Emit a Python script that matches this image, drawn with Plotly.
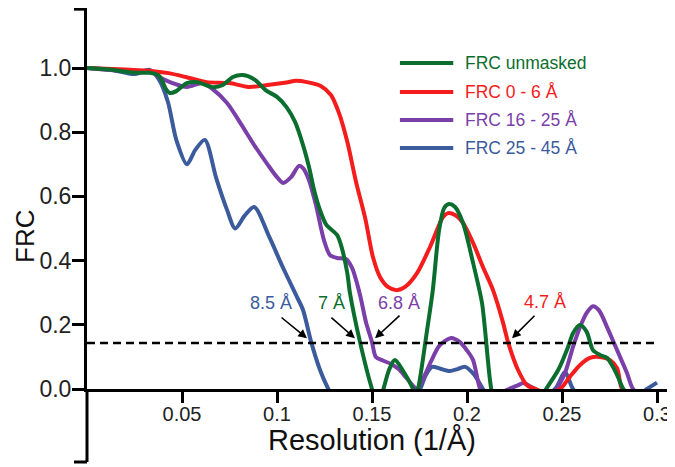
import plotly.graph_objects as go

# ---------------- data ----------------
x_unmasked = [0, 0.012, 0.025, 0.033, 0.038, 0.0415, 0.0437, 0.047, 0.0526, 0.058, 0.0663, 0.0715,
              0.0768, 0.0821, 0.0884, 0.094, 0.1, 0.105, 0.1095, 0.1137, 0.117, 0.1195, 0.1226, 0.126,
              0.1316, 0.134, 0.137, 0.1384, 0.1437, 0.150, 0.153, 0.156, 0.159, 0.162, 0.166, 0.1716,
              0.1728, 0.1742, 0.179, 0.182, 0.1853, 0.188, 0.1905, 0.1937, 0.1979, 0.2032, 0.2079,
              0.2095, 0.2126, 0.216, 0.23, 0.2416, 0.248, 0.2532, 0.2558, 0.2595, 0.263, 0.2663, 0.27,
              0.2737, 0.2768, 0.2795, 0.282, 0.29, 0.3]
frc_unmasked = [1.0, 0.995, 0.985, 0.985, 0.975, 0.935, 0.922, 0.928, 0.953, 0.956, 0.94, 0.947,
                0.972, 0.978, 0.963, 0.931, 0.91, 0.878, 0.832, 0.76, 0.688, 0.62, 0.558, 0.511,
                0.48, 0.442, 0.361, 0.299, 0.146, 0.0, -0.05, 0.0, 0.06, 0.09, 0.06, 0.0,
                -0.02, 0.0, 0.184, 0.308, 0.495, 0.564, 0.576, 0.567, 0.517, 0.393, 0.268,
                0.184, 0.006, -0.08, -0.1, 0.0, 0.059, 0.131, 0.174, 0.199, 0.178, 0.121, 0.106,
                0.097, 0.069, 0.037, 0.003, -0.05, -0.08]

x_0_6 = [0, 0.02, 0.035, 0.043, 0.052, 0.063, 0.075, 0.085, 0.095, 0.105, 0.11, 0.1158, 0.123,
         0.1284, 0.1326, 0.137, 0.1416, 0.1465, 0.1505, 0.1542, 0.1584, 0.163, 0.1674, 0.1737,
         0.1805, 0.1874, 0.19, 0.1937, 0.1979, 0.2032, 0.2084, 0.2137, 0.219, 0.2216, 0.2268,
         0.2316, 0.236, 0.242, 0.249, 0.254, 0.2595, 0.2647, 0.27, 0.2753, 0.279, 0.2816, 0.29, 0.3]
frc_0_6 = [1.0, 0.995, 0.99, 0.984, 0.972, 0.956, 0.953, 0.941, 0.947, 0.955, 0.96, 0.956, 0.944,
           0.916, 0.86, 0.77, 0.645, 0.53, 0.411, 0.349, 0.318, 0.308, 0.318, 0.361,
           0.442, 0.536, 0.548, 0.542, 0.517, 0.455, 0.38, 0.308, 0.206, 0.146, 0.06,
           0.012, 0.0, -0.01, 0.0, 0.037, 0.075, 0.097, 0.1, 0.09, 0.065, 0.0, -0.05, -0.08]

x_16_25 = [0, 0.02, 0.035, 0.038, 0.045, 0.0526, 0.061, 0.066, 0.0737, 0.081, 0.088, 0.095, 0.1,
           0.1032, 0.1074, 0.1116, 0.1137, 0.1168, 0.1205, 0.1247, 0.1279, 0.1316, 0.1363, 0.1395,
           0.1437, 0.1468, 0.15, 0.152, 0.156, 0.16, 0.164, 0.168, 0.1716, 0.1735, 0.1775, 0.181,
           0.1855, 0.1916, 0.1963, 0.2, 0.2032, 0.2063, 0.209, 0.222, 0.227, 0.2295, 0.234, 0.236,
           0.245, 0.2474, 0.2516, 0.2558, 0.2595, 0.263, 0.2663, 0.2695, 0.2737, 0.279, 0.2842,
           0.2874, 0.295, 0.3]
frc_16_25 = [1.0, 0.99, 0.985, 0.972, 0.953, 0.941, 0.953, 0.935, 0.891, 0.826, 0.76, 0.70, 0.66,
             0.642, 0.66, 0.695, 0.688, 0.651, 0.573, 0.464, 0.417, 0.408, 0.405, 0.377,
             0.293, 0.209, 0.146, 0.10, 0.088, 0.078, 0.062, 0.035, 0.01, 0.0, 0.04, 0.085,
             0.135, 0.159, 0.146, 0.12, 0.09, 0.012, -0.03, 0.0, 0.012, 0.019, 0.006, 0.0,
             -0.03, 0.0, 0.05, 0.131, 0.193, 0.237, 0.258, 0.245, 0.193, 0.121, 0.05,
             0.0, -0.04, -0.05]

x_25_45 = [0, 0.012, 0.025, 0.033, 0.038, 0.0426, 0.047, 0.0526, 0.057, 0.062, 0.068, 0.0737,
           0.078, 0.083, 0.088, 0.096, 0.103, 0.1105, 0.1137, 0.118, 0.1226, 0.127, 0.131, 0.15,
           0.17, 0.1753, 0.178, 0.1816, 0.186, 0.191, 0.195, 0.199, 0.2037, 0.2084, 0.213, 0.23,
           0.2463, 0.2516, 0.2558, 0.265, 0.285, 0.2947, 0.3]
frc_25_45 = [1.0, 0.995, 0.981, 0.994, 0.963, 0.894, 0.776, 0.70, 0.745, 0.776, 0.657, 0.558,
             0.50, 0.54, 0.567, 0.473, 0.38, 0.287, 0.246, 0.146, 0.06, 0.0, -0.04, -0.1,
             -0.03, 0.0, 0.04, 0.069, 0.063, 0.056, 0.062, 0.069, 0.045, 0.0, -0.04, -0.06,
             0.0, 0.053, 0.0, -0.05, -0.04, 0.0, 0.02]

series_names = ["FRC unmasked", "FRC 0 - 6 Å", "FRC 16 - 25 Å", "FRC 25 - 45 Å"]
series_colors = ["#0b6e2e", "#f41c1c", "#7a3fa8", "#3b5b9d"]

threshold = 0.143
x_tickvals = [0.05, 0.1, 0.15, 0.2, 0.25, 0.3]
x_ticktext = ["0.05", "0.1", "0.15", "0.2", "0.25", "0.3"]
y_tickvals = [0.0, 0.2, 0.4, 0.6, 0.8, 1.0]
y_ticktext = ["0.0", "0.2", "0.4", "0.6", "0.8", "1.0"]

# resolution labels: text, colour index, arrow tip x, text x, text y, arrow offset
res_labels = ["8.5 Å", "7 Å", "6.8 Å", "4.7 Å"]
res_color_idx = [3, 0, 2, 1]
res_tip_x = [0.1158, 0.1410, 0.1516, 0.2237]
res_text_x = [0.0968, 0.1289, 0.1642, 0.2410]
res_text_y = [0.268, 0.268, 0.268, 0.270]
res_arrow_ax = [-27, -25, 26, 24]
res_arrow_ay = [-22, -22, -24, -24]

FONT = "Arial, Liberation Sans, sans-serif"

fig = go.Figure()
xs = [x_unmasked, x_0_6, x_16_25, x_25_45]
ys = [frc_unmasked, frc_0_6, frc_16_25, frc_25_45]
for i in [3, 2, 1, 0]:
    fig.add_trace(go.Scatter(x=xs[i], y=ys[i], mode="lines", name=series_names[i],
                             line=dict(color=series_colors[i], width=4, shape="spline", smoothing=0.8),
                             showlegend=False, hoverinfo="skip"))

# threshold dashed line
fig.add_shape(type="line", xref="x", yref="y", x0=0, x1=0.3, y0=threshold, y1=threshold,
              line=dict(color="black", width=2.5, dash="8px,5px"))

# y axis extension below 0 and end caps
ext = -(462 - 389) / 381
cap = -13 / 586
fig.add_shape(type="line", xref="paper", yref="paper", x0=0, x1=0, y0=0, y1=ext,
              line=dict(color="black", width=3))
fig.add_shape(type="line", xref="paper", yref="paper", x0=cap, x1=0, y0=ext, y1=ext,
              line=dict(color="black", width=3))
fig.add_shape(type="line", xref="paper", yref="paper", x0=cap, x1=0, y0=0.997, y1=0.997,
              line=dict(color="black", width=3))

# manual legend
leg_y = [0.8556, 0.7795, 0.706, 0.6325]
for i in range(4):
    fig.add_shape(type="line", xref="paper", yref="paper", x0=0.534, x1=0.625, y0=leg_y[i], y1=leg_y[i],
                  line=dict(color=series_colors[i], width=4))
    fig.add_annotation(xref="paper", yref="paper", x=0.6416, y=leg_y[i], text=series_names[i],
                       showarrow=False, xanchor="left", yanchor="middle",
                       font=dict(family=FONT, size=17.5, color=series_colors[i]))

# resolution labels and arrows
for i in range(4):
    c = series_colors[res_color_idx[i]]
    fig.add_annotation(x=res_text_x[i], y=res_text_y[i], text=res_labels[i], showarrow=False,
                       xanchor="center", yanchor="middle", font=dict(family=FONT, size=18, color=c))
    fig.add_annotation(x=res_tip_x[i], y=threshold + 0.015, text="", showarrow=True,
                       ax=res_arrow_ax[i], ay=res_arrow_ay[i], arrowhead=2, arrowsize=1.1,
                       arrowwidth=1.6, arrowcolor="black", standoff=0, startstandoff=0)

# axis titles
fig.add_annotation(xref="paper", yref="paper", x=0.486, y=-0.134, text="Resolution (1/Å)",
                   showarrow=False, xanchor="center", yanchor="middle",
                   font=dict(family=FONT, size=29, color="#111"))
fig.add_annotation(xref="paper", yref="paper", x=-0.1058, y=0.399, text="FRC", textangle=-90,
                   showarrow=False, xanchor="center", yanchor="middle",
                   font=dict(family=FONT, size=26, color="#111"))

fig.update_xaxes(range=[0, 586 / 1900], showgrid=False, zeroline=False, showline=True,
                 linecolor="black", linewidth=3, ticks="outside", ticklen=11, tickwidth=2.5,
                 tickcolor="black", tickvals=x_tickvals, ticktext=x_ticktext, automargin=False,
                 ticklabelstandoff=-6,
                 tickfont=dict(family=FONT, size=20, color="#222"))
fig.update_yaxes(range=[0, 381 / 321], showgrid=False, zeroline=False, showline=True,
                 linecolor="black", linewidth=3, ticks="outside", ticklen=12, tickwidth=2.5,
                 tickcolor="black", tickvals=y_tickvals, ticktext=y_ticktext, automargin=False,
                 ticklabelstandoff=-4,
                 tickfont=dict(family=FONT, size=23, color="#222"))

# page body has an 8px offset: compensate so the plot lands where the reference has it
fig.update_layout(width=675, height=467, margin=dict(l=79, r=10, t=0, b=86, autoexpand=False),
                  plot_bgcolor="white", paper_bgcolor="white", showlegend=False)

fig.write_html("out.html")
